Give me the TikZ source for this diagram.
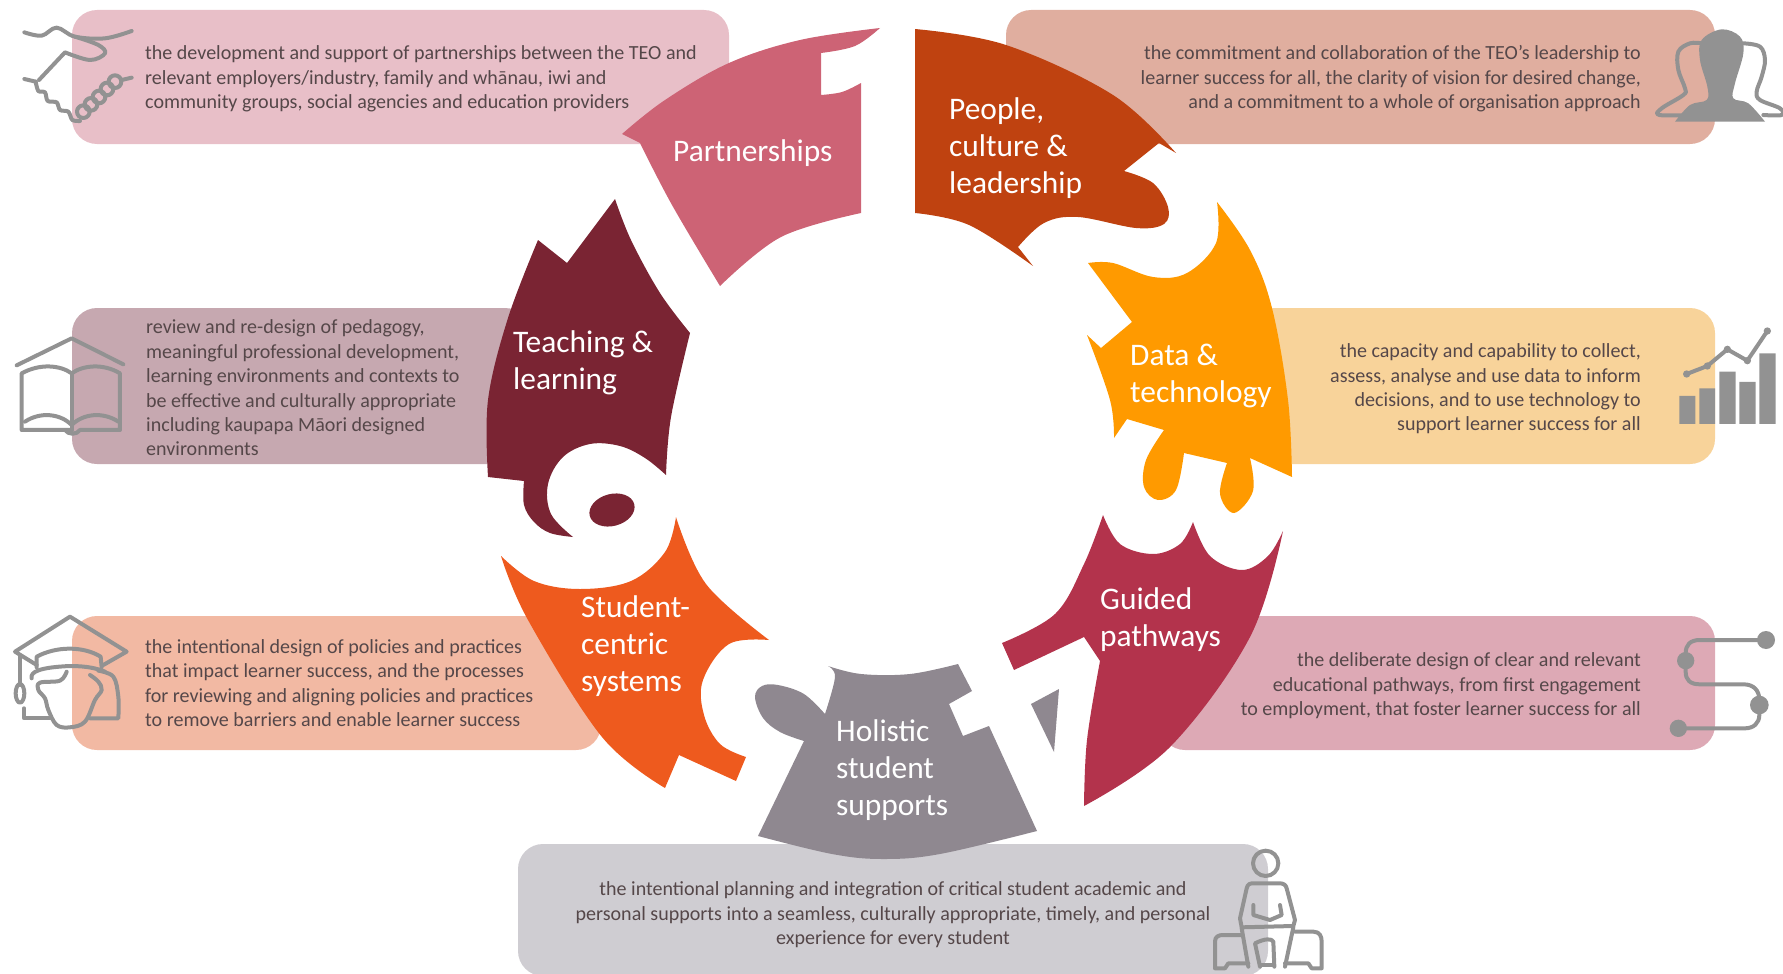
\documentclass[tikz,border=0pt]{standalone}
\usepackage{fontspec}
\setmainfont{Carlito}
\definecolor{bodytxt}{HTML}{554749}
\definecolor{icongray}{HTML}{929292}
\definecolor{cardA}{HTML}{E8BFC8}
\definecolor{cardB}{HTML}{C6A8B0}
\definecolor{cardC}{HTML}{F2B9A3}
\definecolor{cardD}{HTML}{E0AE9F}
\definecolor{cardE}{HTML}{F8D39A}
\definecolor{cardF}{HTML}{DDA9B5}
\definecolor{cardG}{HTML}{CFCDD2}
\definecolor{segA}{HTML}{CD6375}
\definecolor{segB}{HTML}{7A2433}
\definecolor{segC}{HTML}{EE5A1E}
\definecolor{segD}{HTML}{BF4210}
\definecolor{segE}{HTML}{FF9A00}
\definecolor{segF}{HTML}{B3334C}
\definecolor{segG}{HTML}{8F8890}
\tikzset{
  card/.style={rounded corners=25pt},
  bodyl/.style={font=\fontsize{20.05}{24.4}\selectfont,text=bodytxt,align=left,anchor=west,inner sep=0pt},
  bodyr/.style={font=\fontsize{20.05}{24.4}\selectfont,text=bodytxt,align=right,anchor=east,inner sep=0pt},
  bodyc/.style={font=\fontsize{20.05}{24.4}\selectfont,text=bodytxt,align=center,anchor=center,inner sep=0pt},
  title/.style={font=\fontsize{31.4}{36.8}\selectfont,text=white,align=left,anchor=west,inner sep=0pt},
  icon/.style={draw=icongray,line width=4pt,line cap=round,line join=round},
  cv/.style={smooth,tension=.6},
  ic/.style={scale=.3333}
}
\begin{document}
\begin{tikzpicture}[x=1pt,y=-1pt]
\useasboundingbox (0,0) rectangle (1783,974);
% cards
\fill[card,cardA] (72,10) rectangle (729,144);
\fill[card,cardB] (72,308) rectangle (530,464);
\fill[card,cardC] (72,616) rectangle (601,750);
\fill[card,cardD] (1006,10) rectangle (1715,144);
\fill[card,cardE] (1250,308) rectangle (1715,464);
\fill[card,cardF] (1160,616) rectangle (1715,750);
\fill[card,cardG] (518,844) rectangle (1268,976);
% segments
\fill[segA] (880,28) --plot[cv] coordinates {(880,28) (800,40) (729,63) (665,100) (622,134)} -- (640,143)
  --plot[cv] coordinates {(640,143) (672,205) (720,286)}
  --plot[cv] coordinates {(720,286) (781,237) (861,213)}
  -- (861,83) --plot[cv] coordinates {(861,83) (842,92) (821,95)} -- (821,53)
  --plot[cv] coordinates {(821,53) (855,46) (880,28)} -- cycle;
\fill[segD] (915,29) --plot[cv] coordinates {(915,29) (1006,45) (1113,95) (1176,153)} -- (1159,143) -- (1124,171)
  --plot[cv] coordinates {(1124,171) (1153,183) (1168,207) (1164,224) (1136,228) (1078,217) (1044,223) (1018,247)} -- (1033,266)
  --plot[cv] coordinates {(1033,266) (969,225) (915,213)} -- cycle;
\fill[segE] (1217,202) --plot[cv] coordinates {(1217,202) (1250,250) (1272,308) (1288,400) (1292,477)} -- (1250,458)
  --plot[cv] coordinates {(1250,458) (1253,491) (1234,513) (1220,494) (1227,463)} -- (1184,453)
  --plot[cv] coordinates {(1184,453) (1176,490) (1158,500) (1144,487) (1146,460) (1164,430)} -- (1127,419) -- (1114,438)
  --plot[cv] coordinates {(1114,438) (1110,400) (1087,335)} -- (1101,348) -- (1132,322) -- (1088,263)
  --plot[cv] coordinates {(1088,263) (1113,263) (1153,277) (1187,273) (1216,243) (1217,202)} -- cycle;
\fill[segF] (1103,515) --plot[cv] coordinates {(1103,515) (1120,544) (1153,554) (1180,544) (1193,522)}
  --plot[cv] coordinates {(1193,522) (1210,556) (1242,570) (1268,556) (1283,531)}
  --plot[cv] coordinates {(1283,531) (1250,637) (1170,747) (1084,806)}
  --plot[cv] coordinates {(1084,806) (1087,740) (1100,661)} -- (1084,637) -- (1014,670) -- (1002,643)
  --plot[cv] coordinates {(1002,643) (1055,614) (1084,564) (1103,515)} -- cycle;
\fill[segG] (828,666) --plot[cv] coordinates {(828,666) (861,674) (910,674) (958,664)} -- (972,691) -- (949,704) -- (963,736) -- (989,726) -- (1037,831)
  --plot[cv] coordinates {(1037,831) (940,854) (883,859) (832,854) (758,836)} -- (804,741)
  --plot[cv] coordinates {(804,741) (780,732) (763,718) (755,697) (762,686) (778,685) (804,694) (825,714)}
  --plot[cv] coordinates {(825,714) (835,677) (828,666)} -- cycle;
\fill[segG] (1031,704) -- (1059,689) -- (1054,752) -- cycle;
\fill[segC] (676,517) --plot[cv] coordinates {(676,517) (706,584) (769,640)}
  --plot[cv] coordinates {(769,640) (729,644) (703,680) (704,715) (720,744) (746,757)} -- (736,781) -- (679,755) -- (665,788)
  --plot[cv] coordinates {(665,788) (602,737) (528,620) (501,556)}
  --plot[cv] coordinates {(501,556) (534,581) (580,589) (631,581) (665,552) (676,517)} -- cycle;
\fill[segB] (615,199) -- (567,263) -- (538,240) --plot[cv] coordinates {(538,240) (508,318) (488,400) (488,477)} -- (524,481)
  --plot[cv] coordinates {(524,481) (524,505) (534,522) (550,533) (573,537)}
  --plot[cv] coordinates {(573,537) (551,514) (548,484) (563,457) (590,444) (620,446) (645,458) (666,475)}
  --plot[cv] coordinates {(666,475) (671,417) (690,333)}
  --plot[cv] coordinates {(690,333) (660,293) (631,240) (615,199)} -- cycle;
\fill[segB,rotate around={15:(612,510)}] (612,510) ellipse [x radius=23pt,y radius=16pt];
% card text
\node[bodyl] (ta) at (145,79) {the development and support of partnerships between the TEO and\\relevant employers/industry, family and whānau, iwi and\\community groups, social agencies and education providers};
\node[bodyl] (tb) at (146,388) {review and re-design of pedagogy,\\meaningful professional development,\\learning environments and contexts to\\be effective and culturally appropriate\\including kaupapa Māori designed\\environments};
\node[bodyl] (tc) at (145,683) {the intentional design of policies and practices\\that impact learner success, and the processes\\for reviewing and aligning policies and practices\\to remove barriers and enable learner success};
\node[bodyr] (td) at (1641,79) {the commitment and collaboration of the TEO’s leadership to\\learner success for all, the clarity of vision for desired change,\\and a commitment to a whole of organisation approach};
\node[bodyr] (te) at (1641,389) {the capacity and capability to collect,\\assess, analyse and use data to inform\\decisions, and to use technology to\\support learner success for all};
\node[bodyr] (tf) at (1641,686) {the deliberate design of clear and relevant\\educational pathways, from first engagement\\to employment, that foster learner success for all};
\node[bodyc] (tg) at (893,915) {the intentional planning and integration of critical student academic and\\personal supports into a seamless, culturally appropriate, timely, and personal\\experience for every student};
% titles
\node[title] (sa) at (673,153) {Partnerships};
\node[title] (sd) at (949,148) {People,\\culture \&\\leadership};
\node[title] (se) at (1130,376) {Data \&\\technology};
\node[title] (sf) at (1100,620) {Guided\\pathways};
\node[title] (sg) at (836,770) {Holistic\\student\\supports};
\node[title] (sc) at (581,646) {Student-\\centric\\systems};
\node[title] (sb) at (513,363) {Teaching \&\\learning};
% handshake
\begin{scope}[shift={(15,15)},ic]
\draw[icon] plot[cv] coordinates {(28,52) (80,62) (125,38) (180,65) (270,70) (350,48)};
\draw[icon] plot[cv] coordinates {(180,65) (250,90) (270,115) (225,135) (150,112)} -- (72,195);
\draw[icon] (28,192) -- (62,200);
\draw[icon] plot[smooth,tension=.5] coordinates {(62,200) (70,228) (90,232) (98,258) (125,262) (135,285) (160,290) (172,315) (195,318)};
\foreach \px/\py in {205/290,228/268,252/246,276/222,300/200}
  \draw[icon] (\px,\py) circle [radius=19];
\draw[icon] (320,195) -- (350,188);
\end{scope}
% book
\begin{scope}[shift={(10,330)},ic]
\draw[icon] (20,106) -- (185,25) -- (340,103);
\draw[icon] (185,300) -- (35,300) -- (35,130) .. controls (90,100) and (150,105) .. (185,130) .. controls (220,105) and (280,100) .. (330,130) -- (330,300) -- (210,300) .. controls (200,315) and (175,315) .. (165,300);
\draw[icon] (185,130) -- (185,300);
\draw[icon] (45,275) .. controls (90,245) and (150,250) .. (185,285) .. controls (220,250) and (280,245) .. (325,275);
\end{scope}
% cap
\begin{scope}[shift={(10,610)},ic]
\draw[icon] (80,165) -- (15,125) -- (180,20) -- (350,125) -- (280,165);
\draw[icon] (80,172) -- (80,140) .. controls (140,108) and (220,108) .. (272,140) -- (275,172);
\draw[icon] (65,205) .. controls (60,185) and (90,172) .. (180,168) .. controls (230,168) and (260,175) .. (285,185);
\draw[icon] (30,135) -- (30,225);
\draw[icon] (30,250) ellipse [x radius=13,y radius=28];
\draw[icon] plot[cv] coordinates {(170,185) (150,212) (90,218) (85,240) (105,265) (115,300) (140,345) (180,352) (225,335) (255,270) (275,240) (265,215) (240,195)};
\draw[icon] plot[cv] coordinates {(265,182) (310,200) (325,260) (325,325)} -- (240,325);
\draw[icon] (42,295) -- (42,325) -- (120,325);
\end{scope}
% people
\begin{scope}[shift={(1650,20)},ic]
\draw[icon] plot[cv] coordinates {(120,285) (28,285) (35,265) (100,225) (105,205) (85,150) (85,95) (120,70) (155,70)};
\draw[icon] plot[cv] coordinates {(280,70) (330,80) (345,120) (335,170) (320,215) (330,240) (390,265) (395,285) (340,285)};
\fill[icongray] (75,305) --plot[cv] coordinates {(75,305) (120,255) (170,240) (172,200) (150,120) (155,60) (215,28) (270,50) (280,100) (255,190) (250,235) (295,250) (345,305)} -- cycle;
\end{scope}
% bars
\begin{scope}[shift={(1670,320)},ic]
\fill[icongray] (28,228) rectangle (76,312) (88,205) rectangle (135,312) (148,155) rectangle (197,312) (208,186) rectangle (257,312) (268,100) rectangle (317,312);
\draw[icon] (50,162) -- (112,138) -- (172,88) -- (232,122) -- (292,33);
\foreach \px/\py in {50/162,112/138,172/88,232/122,292/33}
  \fill[icongray] (\px,\py) circle [radius=11];
\end{scope}
% pathway
\begin{scope}[shift={(1665,620)},ic]
\draw[icon] (303,60) -- (105,60) .. controls (75,60) and (62,75) .. (62,100) -- (62,155) .. controls (62,180) and (75,193) .. (105,193) -- (235,193) .. controls (265,193) and (283,210) .. (283,240) -- (283,285) .. controls (283,310) and (265,325) .. (240,325) -- (40,325);
\fill[icongray] (303,60) circle [radius=27] (62,122) circle [radius=26] (283,255) circle [radius=28] (40,325) circle [radius=26];
\end{scope}
% person
\begin{scope}[shift={(1205,840)},ic]
\draw[icon] (182,70) circle [radius=38];
\draw[icon] (105,235) -- (125,145) .. controls (128,132) and (135,130) .. (145,130) -- (225,130) .. controls (235,130) and (243,135) .. (245,145) -- (270,240) -- (265,258) -- (110,262) -- cycle;
\draw[icon] (145,195) -- (145,225) -- (195,240) -- (230,225) -- (225,195);
\draw[icon] (110,265) -- (130,380);
\draw[icon] (265,262) -- (240,380);
\draw[icon] (165,380) -- (150,310) .. controls (180,295) and (200,295) .. (205,305) -- (208,380);
\draw[icon] (110,285) -- (55,285) .. controls (40,285) and (30,290) .. (30,305) -- (30,385) -- (60,385) -- (70,370) -- (130,370);
\draw[icon] (270,275) -- (325,275) .. controls (345,275) and (350,290) .. (350,305) -- (350,385) -- (320,385) -- (310,370) -- (240,370);
\draw[icon] (165,375) -- (205,375);
\end{scope}
\end{tikzpicture}
\end{document}
